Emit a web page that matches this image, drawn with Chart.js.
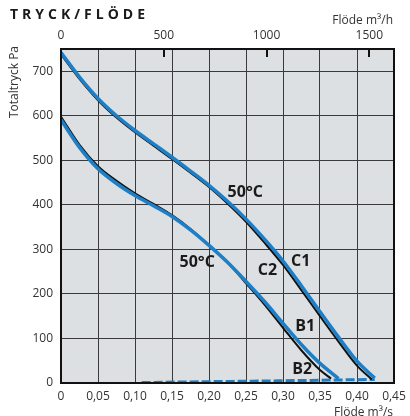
<!DOCTYPE html>
<html>
<head>
<meta charset="utf-8">
<script src="https://cdn.jsdelivr.net/npm/chart.js@4/dist/chart.umd.min.js"></script>
<style>
html,body{margin:0;padding:0;background:#fff;}
canvas{display:block;}
</style>
</head>
<body>
<canvas id="c" width="410" height="416"></canvas>
<script>
// ---- data (flow m3/s, total pressure Pa) ----
const c1X = [0, 0.025, 0.05, 0.075, 0.1, 0.125, 0.15, 0.175, 0.2, 0.225, 0.25, 0.275, 0.3, 0.325, 0.35, 0.375, 0.4, 0.424];
const c1Y = [742, 687, 639, 600, 567, 537, 507, 476, 444, 408, 368, 323, 274, 218, 160, 103, 49, 11];
const c2X = [0, 0.025, 0.05, 0.075, 0.1, 0.125, 0.15, 0.175, 0.2, 0.225, 0.25, 0.275, 0.3, 0.325, 0.35, 0.375, 0.4, 0.420];
const c2Y = [738, 683, 635, 596, 563, 533, 503, 472, 440, 403, 362, 315, 265, 208, 150, 93, 39, 8];
const b1X = [0, 0.025, 0.05, 0.075, 0.1, 0.125, 0.15, 0.175, 0.2, 0.225, 0.25, 0.275, 0.3, 0.325, 0.35, 0.375];
const b1Y = [591, 529, 481, 448, 421, 398, 374, 344, 309, 271, 228, 183, 134, 86, 44, 10];
const b2X = [0, 0.025, 0.05, 0.075, 0.1, 0.125, 0.15, 0.175, 0.2, 0.225, 0.25, 0.275, 0.3, 0.325, 0.35, 0.365];
const b2Y = [598, 535, 487, 454, 426, 402, 377, 346, 310, 271, 224, 176, 124, 73, 29, 10];
const dashX = [0.109, 0.2, 0.3, 0.424];
const dashY = [1, 3, 5, 8];

// ---- axis ticks ----
const xTickValues = [0, 0.05, 0.1, 0.15, 0.2, 0.25, 0.3, 0.35, 0.4, 0.45];
const xTickLabels = ['0', '0,05', '0,10', '0,15', '0,20', '0,25', '0,30', '0,35', '0,40', '0,45'];
const yTickValues = [0, 100, 200, 300, 400, 500, 600, 700];
const yTickLabels = ['0', '100', '200', '300', '400', '500', '600', '700'];
const topTickValues = [0, 500, 1000, 1500];
const topTickLabels = ['0', '500', '1000', '1500'];

// ---- curve labels (data coords) ----
const labelTexts = ['50°C', '50°C', 'C1', 'C2', 'B1', 'B2'];
const labelX = [0.249, 0.184, 0.324, 0.279, 0.330, 0.326];
const labelY = [429, 270, 274, 253, 128, 31];

const pts = (xs, ys) => xs.map((x, i) => ({x: x, y: ys[i]}));
const BLUE = '#1f7fc6';
const FONT = "'Open Sans', 'Noto Sans', sans-serif";

const fixFit = (w, h) => function(scale) {
  if (w !== null) scale.width = w;
  if (h !== null) scale.height = h;
  scale.paddingLeft = 0; scale.paddingRight = 0;
  scale.paddingTop = 0; scale.paddingBottom = 0;
};
const setTicks = vals => s => { s.ticks = vals.map(v => ({value: v})); };

const deco = {
  id: 'deco',
  beforeDraw(chart) {
    const a = chart.chartArea, ctx = chart.ctx;
    ctx.save();
    ctx.fillStyle = '#dde0e2';
    ctx.fillRect(a.left, a.top, a.right - a.left, a.bottom - a.top);
    ctx.restore();
  },
  afterDraw(chart) {
    const a = chart.chartArea, ctx = chart.ctx;
    const xs = chart.scales.x, ys = chart.scales.y, top = chart.scales.xTop;
    ctx.save();
    // frame
    ctx.strokeStyle = '#111';
    ctx.lineWidth = 2;
    ctx.strokeRect(a.left, a.top, a.right - a.left, a.bottom - a.top);
    // inward top ticks
    top.ticks.forEach(t => {
      if (t.value <= 0) return;
      const px = Math.round(top.getPixelForValue(t.value));
      ctx.beginPath();
      ctx.moveTo(px, a.top);
      ctx.lineTo(px, a.top + 8);
      ctx.stroke();
    });
    // curve labels
    ctx.fillStyle = '#1a1a1a';
    ctx.font = 'bold 16px ' + FONT;
    ctx.textAlign = 'center';
    ctx.textBaseline = 'middle';
    labelTexts.forEach((t, i) => {
      ctx.fillText(t, xs.getPixelForValue(labelX[i]), ys.getPixelForValue(labelY[i]));
    });
    // title
    ctx.textBaseline = 'alphabetic';
    ctx.textAlign = 'left';
    ctx.font = 'bold 14px ' + FONT;
    ctx.letterSpacing = '4px';
    ctx.fillStyle = '#1a1a1a';
    ctx.fillText('TRYCK/FLÖDE', 10, 18.5);
    ctx.letterSpacing = '0px';
    // axis titles
    ctx.font = '12px ' + FONT;
    ctx.fillStyle = '#333';
    ctx.textAlign = 'right';
    ctx.fillText('Flöde m³/h', 393, 24);
    ctx.fillText('Flöde m³/s', 393, 416);
    ctx.save();
    ctx.translate(18, 82);
    ctx.rotate(-Math.PI / 2);
    ctx.textAlign = 'center';
    ctx.fillText('Totaltryck Pa', 0, 0);
    ctx.restore();
    ctx.restore();
  }
};

const gridColor = '#3a3a3a';
new Chart(document.getElementById('c'), {
  type: 'line',
  data: {
    datasets: [
      {label: 'C1', data: pts(c1X, c1Y), borderColor: BLUE, borderWidth: 3.5, order: 1},
      {label: 'B1', data: pts(b1X, b1Y), borderColor: BLUE, borderWidth: 3.5, order: 2},
      {label: 'C2', data: pts(c2X, c2Y), borderColor: '#111', borderWidth: 2, order: 3},
      {label: 'B2', data: pts(b2X, b2Y), borderColor: '#111', borderWidth: 2, order: 4},
      {label: 'dash', data: pts(dashX, dashY), borderColor: BLUE, borderWidth: 3, borderDash: [9, 3], order: 5}
    ]
  },
  options: {
    responsive: false,
    animation: false,
    devicePixelRatio: 1,
    layout: {padding: {left: 0, right: 16, top: 0, bottom: 0}},
    elements: {
      point: {radius: 0},
      line: {cubicInterpolationMode: 'monotone', fill: false, borderCapStyle: 'butt'}
    },
    plugins: {legend: {display: false}, tooltip: {enabled: false}, title: {display: false}},
    scales: {
      x: {
        type: 'linear', position: 'bottom', min: 0, max: 0.45,
        afterBuildTicks: setTicks(xTickValues),
        ticks: {padding: 6, color: '#333', font: {family: FONT, size: 12},
          maxRotation: 0, autoSkip: false,
          callback: (v, i) => xTickLabels[i]},
        grid: {color: gridColor, lineWidth: 1, drawTicks: false},
        border: {display: false},
        afterFit: fixFit(null, 33)
      },
      xTop: {
        type: 'linear', position: 'top', min: 0, max: 1620,
        afterBuildTicks: setTicks(topTickValues),
        ticks: {padding: 6, color: '#333', font: {family: FONT, size: 12},
          maxRotation: 0, autoSkip: false,
          callback: (v, i) => topTickLabels[i]},
        grid: {drawOnChartArea: false, drawTicks: false},
        border: {display: false},
        afterFit: fixFit(null, 49)
      },
      y: {
        type: 'linear', position: 'left', min: 0, max: 750,
        afterBuildTicks: setTicks(yTickValues),
        ticks: {padding: 8, color: '#333', font: {family: FONT, size: 12},
          autoSkip: false,
          callback: (v, i) => yTickLabels[i]},
        grid: {color: gridColor, lineWidth: 1, drawTicks: false},
        border: {display: false},
        afterFit: fixFit(61, null)
      }
    }
  },
  plugins: [deco]
});
</script>
</body>
</html>
